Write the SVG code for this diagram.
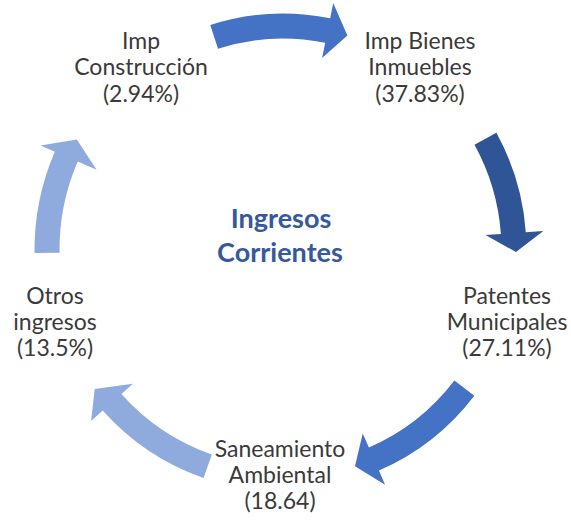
<svg xmlns="http://www.w3.org/2000/svg" width="571" height="520" viewBox="0 0 571 520">
<style>
.lbl{font-family:Lato,"Open Sans","Liberation Sans",sans-serif;font-size:23px;fill:#3a3a3a;text-anchor:middle}
.ctr{font-family:Lato,"Open Sans","Liberation Sans",sans-serif;font-size:27px;font-weight:bold;fill:#35599C;text-anchor:middle}
.a-mid{fill:#4472C4}
.a-dark{fill:#2F5597}
.a-light{fill:#8FAADC}
</style>
<rect width="571" height="520" fill="#ffffff"/>
<g id="connectors">
<path class="a-mid" d="M210.3 24.9 A236.5 236.5 0 0 1 330.2 18.3 L333.2 3.1 L347.4 35.5 L322.1 57.9 L325.2 42.8 A211.5 211.5 0 0 0 218 48.7 Z"/>
<path class="a-dark" d="M496.4 132.7 A243.5 243.5 0 0 1 525.8 232.2 L543.3 230.9 L516 252 L485.5 235.1 L500.9 234 A218.5 218.5 0 0 0 474.5 144.7 Z"/>
<path class="a-mid" d="M474.3 395.7 A240.5 240.5 0 0 1 378.9 470.6 L385.1 484.8 L355 466.3 L362.7 433.4 L368.9 447.6 A215.5 215.5 0 0 0 454.4 380.6 Z"/>
<path class="a-light" d="M203.6 478.1 A241.5 241.5 0 0 1 102.7 410.6 L91.1 421 L94.7 388.9 L132.9 383.7 L121.4 394 A216.5 216.5 0 0 0 211.8 454.5 Z"/>
<path class="a-light" d="M34.5 253 A248.5 248.5 0 0 1 54.8 151.7 L40.5 145.6 L76.8 139.4 L96.6 169.7 L77.7 161.6 A223.5 223.5 0 0 0 59.5 252.7 Z"/>
</g>
<g id="center">
<text class="ctr" x="281" y="228">Ingresos</text>
<text class="ctr" x="280" y="262">Corrientes</text>
</g>
<g id="node-construccion">
<text class="lbl" x="141" y="49">Imp</text>
<text class="lbl" x="141" y="75">Construcción</text>
<text class="lbl" x="141" y="102">(2.94%)</text>
</g>
<g id="node-bienes">
<text class="lbl" x="420" y="49">Imp Bienes</text>
<text class="lbl" x="420" y="75">Inmuebles</text>
<text class="lbl" x="420" y="102">(37.83%)</text>
</g>
<g id="node-patentes">
<text class="lbl" x="507" y="304">Patentes</text>
<text class="lbl" x="507" y="330">Municipales</text>
<text class="lbl" x="507" y="356">(27.11%)</text>
</g>
<g id="node-saneamiento">
<text class="lbl" x="280" y="457">Saneamiento</text>
<text class="lbl" x="280" y="483">Ambiental</text>
<text class="lbl" x="280" y="509">(18.64)</text>
</g>
<g id="node-otros">
<text class="lbl" x="55" y="304">Otros</text>
<text class="lbl" x="55" y="330">ingresos</text>
<text class="lbl" x="55" y="356">(13.5%)</text>
</g>
</svg>
